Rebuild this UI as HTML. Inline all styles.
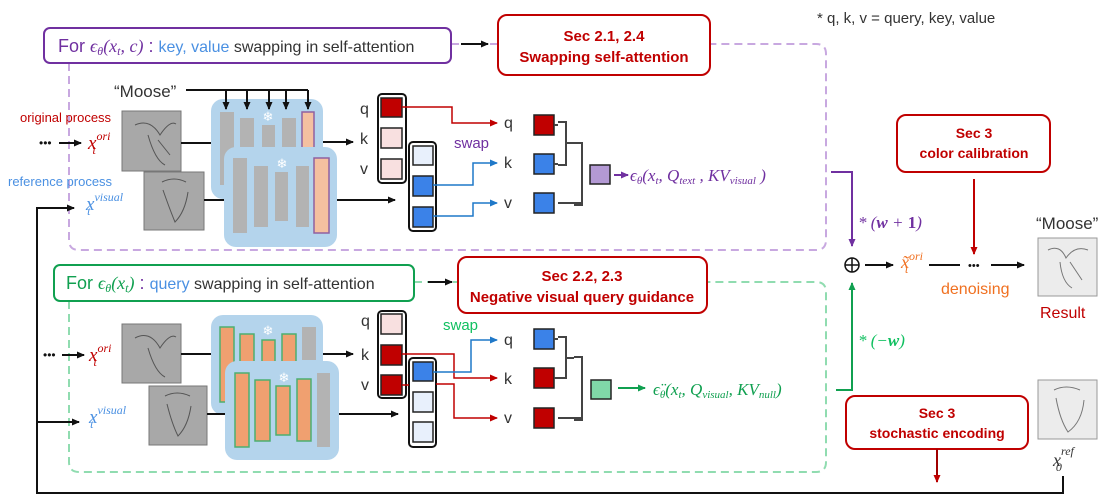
<!DOCTYPE html>
<html><head><meta charset="utf-8"><style>
html,body{margin:0;padding:0;background:#fff;}
svg{display:block;}
.h{font-family:"Liberation Sans",sans-serif;}
.m{font-family:"Liberation Serif",serif;font-style:italic;}
</style></head><body>
<svg width="1113" height="496" viewBox="0 0 1113 496" xmlns="http://www.w3.org/2000/svg">
<defs>
<marker id="ak" markerWidth="8" markerHeight="8" refX="7" refY="4" orient="auto" markerUnits="userSpaceOnUse"><path d="M0,0.5 L8,4 L0,7.5z" fill="#111"/></marker>
<marker id="ar" markerWidth="8" markerHeight="8" refX="7" refY="4" orient="auto" markerUnits="userSpaceOnUse"><path d="M0,0.5 L8,4 L0,7.5z" fill="#c00000"/></marker>
<marker id="ab" markerWidth="8" markerHeight="8" refX="7" refY="4" orient="auto" markerUnits="userSpaceOnUse"><path d="M0,0.5 L8,4 L0,7.5z" fill="#1f78c8"/></marker>
<marker id="ap" markerWidth="8" markerHeight="8" refX="7" refY="4" orient="auto" markerUnits="userSpaceOnUse"><path d="M0,0.5 L8,4 L0,7.5z" fill="#7030a0"/></marker>
<marker id="ag" markerWidth="8" markerHeight="8" refX="7" refY="4" orient="auto" markerUnits="userSpaceOnUse"><path d="M0,0.5 L8,4 L0,7.5z" fill="#10a050"/></marker>
</defs>

<!-- dashed regions -->
<path d="M69,63 V240 Q69,250 79,250 H816 Q826,250 826,240 V54 Q826,44 816,44 H710" fill="none" stroke="#c8a8e0" stroke-width="2" stroke-dasharray="8,5"/>
<line x1="451" y1="44" x2="498" y2="44" stroke="#c8a8e0" stroke-width="2" stroke-dasharray="8,5"/>
<path d="M69,301 V462 Q69,472 79,472 H816 Q826,472 826,462 V292 Q826,282 816,282 H707" fill="none" stroke="#90dcb0" stroke-width="2" stroke-dasharray="8,5"/>
<line x1="414" y1="282" x2="458" y2="282" stroke="#90dcb0" stroke-width="2" stroke-dasharray="8,5"/>

<!-- header boxes -->
<rect x="44" y="28" width="407" height="35" rx="6" fill="#fff" stroke="#7030a0" stroke-width="2"/>
<text x="58" y="52" class="h" font-size="18" fill="#7030a0">For <tspan class="m">ϵ<tspan font-size="12" dy="3">θ</tspan><tspan dy="-3">(x</tspan><tspan font-size="12" dy="3">t</tspan><tspan dy="-3">, c)</tspan></tspan> : <tspan fill="#4a90e2" font-size="16">key, value</tspan><tspan fill="#333" font-size="16"> swapping in self-attention</tspan></text>
<line x1="461" y1="44" x2="488" y2="44" stroke="#111" stroke-width="2" marker-end="url(#ak)"/>
<rect x="498" y="15" width="212" height="60" rx="9" fill="#fff" stroke="#c00000" stroke-width="2"/>
<text x="604" y="41" class="h" font-size="15" font-weight="bold" fill="#c00000" text-anchor="middle">Sec 2.1, 2.4</text>
<text x="604" y="62" class="h" font-size="15" font-weight="bold" fill="#c00000" text-anchor="middle">Swapping self-attention</text>
<text x="817" y="23" class="h" font-size="15" fill="#333">* q, k, v = query, key, value</text>

<rect x="54" y="265" width="360" height="36" rx="6" fill="#fff" stroke="#10a050" stroke-width="2"/>
<text x="66" y="289" class="h" font-size="18" fill="#10a050">For <tspan class="m">ϵ<tspan font-size="12" dy="3">θ</tspan><tspan dy="-3">(x</tspan><tspan font-size="12" dy="3">t</tspan><tspan dy="-3">)</tspan></tspan> <tspan fill="#7030a0">:</tspan> <tspan fill="#4a90e2" font-size="16">query</tspan><tspan fill="#333" font-size="16"> swapping in self-attention</tspan></text>
<line x1="428" y1="282" x2="452" y2="282" stroke="#111" stroke-width="2" marker-end="url(#ak)"/>
<rect x="458" y="257" width="249" height="56" rx="9" fill="#fff" stroke="#c00000" stroke-width="2"/>
<text x="582" y="281" class="h" font-size="15" font-weight="bold" fill="#c00000" text-anchor="middle">Sec 2.2, 2.3</text>
<text x="582" y="302" class="h" font-size="15" font-weight="bold" fill="#c00000" text-anchor="middle">Negative visual query guidance</text>

<rect x="897" y="115" width="153" height="57" rx="9" fill="#fff" stroke="#c00000" stroke-width="2"/>
<text x="974" y="138" class="h" font-size="14" font-weight="bold" fill="#c00000" text-anchor="middle">Sec 3</text>
<text x="974" y="158" class="h" font-size="14" font-weight="bold" fill="#c00000" text-anchor="middle">color calibration</text>
<line x1="974" y1="179" x2="974" y2="254" stroke="#c00000" stroke-width="2" marker-end="url(#ar)"/>

<rect x="846" y="396" width="182" height="53" rx="9" fill="#fff" stroke="#c00000" stroke-width="2"/>
<text x="937" y="418" class="h" font-size="14" font-weight="bold" fill="#c00000" text-anchor="middle">Sec 3</text>
<text x="937" y="438" class="h" font-size="14" font-weight="bold" fill="#c00000" text-anchor="middle">stochastic encoding</text>
<line x1="937" y1="449" x2="937" y2="482" stroke="#a00000" stroke-width="2" marker-end="url(#ar)"/>

<!-- left loop -->
<path d="M1063,476 V493 H37 V208 H74" fill="none" stroke="#111" stroke-width="2" marker-end="url(#ak)"/>
<line x1="37" y1="422" x2="79" y2="422" stroke="#111" stroke-width="2" marker-end="url(#ak)"/>

<!-- ===== TOP ===== -->
<text x="20" y="122" class="h" font-size="13" fill="#c00000">original process</text>
<text x="8" y="186" class="h" font-size="13" fill="#4a90e2">reference process</text>
<text x="39" y="147" class="h" font-size="12" fill="#111">•••</text>
<line x1="59" y1="143" x2="81" y2="143" stroke="#111" stroke-width="2" marker-end="url(#ak)"/>
<text x="88" y="149" class="m" font-size="19" fill="#c00000">x<tspan font-size="12" dy="-9">ori</tspan><tspan font-size="12" dx="-18" dy="14">t</tspan></text>
<text x="86" y="210" class="m" font-size="19" fill="#4a90e2">x<tspan font-size="12" dy="-9">visual</tspan><tspan font-size="12" dx="-36" dy="14">t</tspan></text>

<text x="114" y="97" class="h" font-size="17" fill="#333">“Moose”</text>
<rect x="122" y="111" width="59" height="60" fill="#a8a8a8" stroke="#777"/>
<path d="M135,125 Q150,118 160,135 Q170,120 176,124 M148,135 Q155,160 165,165 M158,140 L170,155" stroke="#555" fill="none"/>
<line x1="181" y1="143" x2="211" y2="143" stroke="#111" stroke-width="2"/>

<rect x="211" y="99" width="112" height="100" rx="12" fill="#b4d4ec"/>
<g fill="#b3b3b3"><rect x="220" y="112" width="14" height="73"/><rect x="240" y="118" width="14" height="62"/><rect x="262" y="125" width="13" height="50"/><rect x="282" y="118" width="14" height="62"/></g>
<rect x="302" y="112" width="12" height="60" fill="#f4c0a0" stroke="#9060a0" stroke-width="1.5"/>
<text x="268" y="121" font-size="13" fill="#fff" text-anchor="middle" class="h">❄</text>
<path d="M186,90 H308" stroke="#111" stroke-width="2" fill="none"/>
<g stroke="#111" stroke-width="2" marker-end="url(#ak)">
<line x1="226" y1="90" x2="226" y2="109"/><line x1="247" y1="90" x2="247" y2="109"/><line x1="269" y1="90" x2="269" y2="109"/><line x1="286" y1="90" x2="286" y2="109"/><line x1="308" y1="90" x2="308" y2="109"/>
</g>
<line x1="323" y1="142" x2="353" y2="142" stroke="#111" stroke-width="2" marker-end="url(#ak)"/>

<rect x="144" y="172" width="60" height="58" fill="#a8a8a8" stroke="#777"/>
<path d="M162,182 Q174,176 186,182 M163,190 Q170,210 175,222 Q185,212 188,192" stroke="#555" fill="none"/>
<line x1="204" y1="200" x2="224" y2="200" stroke="#111" stroke-width="2"/>
<rect x="224" y="147" width="113" height="100" rx="12" fill="#b4d4ec"/>
<g fill="#b3b3b3"><rect x="233" y="158" width="14" height="75"/><rect x="254" y="166" width="14" height="61"/><rect x="275" y="172" width="13" height="49"/><rect x="296" y="166" width="13" height="61"/></g>
<rect x="314" y="158" width="15" height="75" fill="#f4c0a0" stroke="#9060a0" stroke-width="1.5"/>
<text x="282" y="168" font-size="13" fill="#fff" text-anchor="middle" class="h">❄</text>
<line x1="337" y1="200" x2="395" y2="200" stroke="#111" stroke-width="2" marker-end="url(#ak)"/>

<g class="h" font-size="16" fill="#333"><text x="360" y="114">q</text><text x="360" y="144">k</text><text x="360" y="174">v</text></g>
<rect x="378" y="94" width="28" height="89" rx="4" fill="#fff" stroke="#111" stroke-width="2"/>
<rect x="381" y="98" width="21" height="19" fill="#c00000" stroke="#222" stroke-width="1.5"/>
<rect x="381" y="128" width="21" height="20" fill="#f8e0e0" stroke="#222" stroke-width="1.5"/>
<rect x="381" y="159" width="21" height="20" fill="#f8e0e0" stroke="#222" stroke-width="1.5"/>
<rect x="409" y="142" width="27" height="89" rx="4" fill="#fff" stroke="#111" stroke-width="2"/>
<rect x="413" y="146" width="20" height="19" fill="#e8f0fc" stroke="#222" stroke-width="1.5"/>
<rect x="413" y="176" width="20" height="20" fill="#3b82e8" stroke="#222" stroke-width="1.5"/>
<rect x="413" y="207" width="20" height="20" fill="#3b82e8" stroke="#222" stroke-width="1.5"/>

<path d="M402,107 H452 V123 H497" fill="none" stroke="#c00000" stroke-width="1.5" marker-end="url(#ar)"/>
<path d="M433,185 H473 V163 H497" fill="none" stroke="#1f78c8" stroke-width="1.5" marker-end="url(#ab)"/>
<path d="M433,216 H473 V203 H497" fill="none" stroke="#1f78c8" stroke-width="1.5" marker-end="url(#ab)"/>
<text x="454" y="148" class="h" font-size="15" fill="#7030a0">swap</text>
<g class="h" font-size="16" fill="#333"><text x="504" y="128">q</text><text x="504" y="168">k</text><text x="504" y="208">v</text></g>
<rect x="534" y="115" width="20" height="20" fill="#c00000" stroke="#222" stroke-width="1.5"/>
<rect x="534" y="154" width="20" height="20" fill="#3b82e8" stroke="#222" stroke-width="1.5"/>
<rect x="534" y="193" width="20" height="20" fill="#3b82e8" stroke="#222" stroke-width="1.5"/>
<path d="M554,125 H558 M554,164 H558 M558,122 H566 V165 H558 M566,143 H574 M558,203 H582 M574,143 H582 V205 H574" fill="none" stroke="#444" stroke-width="2"/>
<rect x="590" y="165" width="20" height="19" fill="#b399d4" stroke="#222" stroke-width="1.5"/>
<line x1="614" y1="175" x2="628" y2="175" stroke="#7030a0" stroke-width="2" marker-end="url(#ap)"/>
<text x="630" y="181" class="m" font-size="17" fill="#7030a0">ϵ<tspan font-size="11" dy="3">θ</tspan><tspan dy="-3">(x</tspan><tspan font-size="11" dy="3">t</tspan><tspan dy="-3">, Q</tspan><tspan font-size="11" dy="3">text</tspan><tspan dy="-3"> , KV</tspan><tspan font-size="11" dy="3">visual</tspan><tspan dy="-3"> )</tspan></text>
<path d="M831,172 H852 V246" fill="none" stroke="#7030a0" stroke-width="2" marker-end="url(#ap)"/>
<text x="858" y="228" class="m" font-size="17" fill="#7030a0">* (<tspan font-weight="bold">w</tspan> + <tspan font-weight="bold" font-style="normal">1</tspan>)</text>

<!-- ===== BOTTOM ===== -->
<text x="43" y="359" class="h" font-size="12" fill="#111">•••</text>
<line x1="62" y1="355" x2="84" y2="355" stroke="#111" stroke-width="2" marker-end="url(#ak)"/>
<text x="89" y="361" class="m" font-size="19" fill="#c00000">x<tspan font-size="12" dy="-9">ori</tspan><tspan font-size="12" dx="-18" dy="14">t</tspan></text>
<text x="89" y="423" class="m" font-size="19" fill="#4a90e2">x<tspan font-size="12" dy="-9">visual</tspan><tspan font-size="12" dx="-36" dy="14">t</tspan></text>

<rect x="122" y="324" width="59" height="59" fill="#a8a8a8" stroke="#777"/>
<path d="M135,338 Q150,330 160,348 Q170,333 176,337 M148,348 Q155,372 165,377" stroke="#555" fill="none"/>
<line x1="181" y1="354" x2="211" y2="354" stroke="#111" stroke-width="2"/>
<rect x="211" y="315" width="112" height="100" rx="12" fill="#b4d4ec"/>
<g fill="#f0a070" stroke="#4caf70" stroke-width="1.5"><rect x="220" y="327" width="14" height="75"/><rect x="240" y="334" width="14" height="60"/><rect x="262" y="340" width="13" height="48"/><rect x="282" y="334" width="14" height="60"/></g>
<rect x="302" y="327" width="14" height="33" fill="#b3b3b3"/>
<text x="268" y="335" font-size="13" fill="#fff" text-anchor="middle" class="h">❄</text>
<line x1="323" y1="354" x2="353" y2="354" stroke="#111" stroke-width="2" marker-end="url(#ak)"/>

<rect x="149" y="386" width="58" height="59" fill="#a8a8a8" stroke="#777"/>
<path d="M165,396 Q177,390 190,396 M167,404 Q172,424 178,436 Q188,426 191,406" stroke="#555" fill="none"/>
<line x1="207" y1="414" x2="225" y2="414" stroke="#111" stroke-width="2"/>
<rect x="225" y="361" width="114" height="99" rx="12" fill="#b4d4ec"/>
<g fill="#f0a070" stroke="#4caf70" stroke-width="1.5"><rect x="235" y="373" width="14" height="74"/><rect x="255" y="380" width="15" height="61"/><rect x="276" y="386" width="14" height="49"/><rect x="297" y="379" width="14" height="62"/></g>
<rect x="317" y="373" width="13" height="74" fill="#b3b3b3"/>
<text x="284" y="382" font-size="13" fill="#fff" text-anchor="middle" class="h">❄</text>
<line x1="339" y1="414" x2="398" y2="414" stroke="#111" stroke-width="2" marker-end="url(#ak)"/>

<g class="h" font-size="16" fill="#333"><text x="361" y="326">q</text><text x="361" y="360">k</text><text x="361" y="390">v</text></g>
<rect x="378" y="311" width="28" height="87" rx="4" fill="#fff" stroke="#111" stroke-width="2"/>
<rect x="381" y="314" width="21" height="20" fill="#f8e0e0" stroke="#222" stroke-width="1.5"/>
<rect x="381" y="345" width="21" height="20" fill="#c00000" stroke="#222" stroke-width="1.5"/>
<rect x="381" y="375" width="21" height="20" fill="#c00000" stroke="#222" stroke-width="1.5"/>
<rect x="409" y="358" width="27" height="89" rx="4" fill="#fff" stroke="#111" stroke-width="2"/>
<rect x="413" y="362" width="20" height="19" fill="#3b82e8" stroke="#222" stroke-width="1.5"/>
<rect x="413" y="392" width="20" height="20" fill="#e8f0fc" stroke="#222" stroke-width="1.5"/>
<rect x="413" y="422" width="20" height="20" fill="#e8f0fc" stroke="#222" stroke-width="1.5"/>

<path d="M402,354 H454 V378 H497" fill="none" stroke="#c00000" stroke-width="1.5" marker-end="url(#ar)"/>
<path d="M402,385 H409 M436,384 H454 V418 H497" fill="none" stroke="#c00000" stroke-width="1.5" marker-end="url(#ar)"/>
<path d="M433,372 H471 V340 H497" fill="none" stroke="#1f78c8" stroke-width="1.5" marker-end="url(#ab)"/>
<text x="443" y="330" class="h" font-size="15" fill="#10c060">swap</text>
<g class="h" font-size="16" fill="#333"><text x="504" y="345">q</text><text x="504" y="384">k</text><text x="504" y="423">v</text></g>
<rect x="534" y="329" width="20" height="20" fill="#3b82e8" stroke="#222" stroke-width="1.5"/>
<rect x="534" y="368" width="20" height="20" fill="#c00000" stroke="#222" stroke-width="1.5"/>
<rect x="534" y="408" width="20" height="20" fill="#c00000" stroke="#222" stroke-width="1.5"/>
<path d="M554,339 H558 M554,378 H558 M558,337 H566 V378 H558 M566,358 H574 M558,418 H582 M574,357 H582 V420 H574" fill="none" stroke="#444" stroke-width="2"/>
<rect x="591" y="380" width="20" height="19" fill="#80d8a8" stroke="#222" stroke-width="1.5"/>
<line x1="618" y1="388" x2="645" y2="388" stroke="#10a050" stroke-width="2" marker-end="url(#ag)"/>
<text x="653" y="395" class="m" font-size="17" fill="#10a050">ϵ̈<tspan font-size="11" dy="3">θ</tspan><tspan dy="-3">(x</tspan><tspan font-size="11" dy="3">t</tspan><tspan dy="-3">, Q</tspan><tspan font-size="11" dy="3">visual</tspan><tspan dy="-3">, KV</tspan><tspan font-size="11" dy="3">null</tspan><tspan dy="-3">)</tspan></text>
<path d="M836,390 H852 V283" fill="none" stroke="#10a050" stroke-width="2" marker-end="url(#ag)"/>
<text x="858" y="346" class="m" font-size="17" fill="#10c060">* (−<tspan font-weight="bold">w</tspan>)</text>

<!-- right -->
<circle cx="852" cy="265" r="7" fill="#fff" stroke="#111" stroke-width="1.5"/>
<path d="M845,265 H859 M852,258 V272" stroke="#111" stroke-width="1.5"/>
<line x1="865" y1="265" x2="893" y2="265" stroke="#111" stroke-width="2" marker-end="url(#ak)"/>
<text x="901" y="268" class="m" font-size="18" fill="#f07020">x̃<tspan font-size="12" dy="-8">ori</tspan><tspan font-size="12" dx="-18" dy="13">t</tspan></text>
<line x1="929" y1="265" x2="960" y2="265" stroke="#111" stroke-width="2"/>
<text x="968" y="269" class="h" font-size="11" fill="#111">•••</text>
<line x1="991" y1="265" x2="1024" y2="265" stroke="#111" stroke-width="2" marker-end="url(#ak)"/>
<text x="941" y="294" class="h" font-size="16" fill="#f07020">denoising</text>
<text x="1036" y="229" class="h" font-size="17" fill="#333">“Moose”</text>
<rect x="1038" y="238" width="59" height="58" fill="#ececec" stroke="#999"/>
<path d="M1048,250 Q1060,244 1066,258 Q1075,245 1088,250 M1060,262 Q1062,282 1072,288 M1070,262 L1082,280" stroke="#777" fill="none"/>
<text x="1040" y="318" class="h" font-size="16" fill="#c00000">Result</text>
<rect x="1038" y="380" width="59" height="59" fill="#ececec" stroke="#999"/>
<path d="M1054,390 Q1066,384 1080,390 M1056,398 Q1060,420 1068,432 Q1082,422 1084,400" stroke="#777" fill="none"/>
<text x="1053" y="466" class="m" font-size="18" fill="#333">x<tspan font-size="12" dy="-11">ref</tspan><tspan font-size="12" dx="-18" dy="16">0</tspan></text>
</svg>
</body></html>
